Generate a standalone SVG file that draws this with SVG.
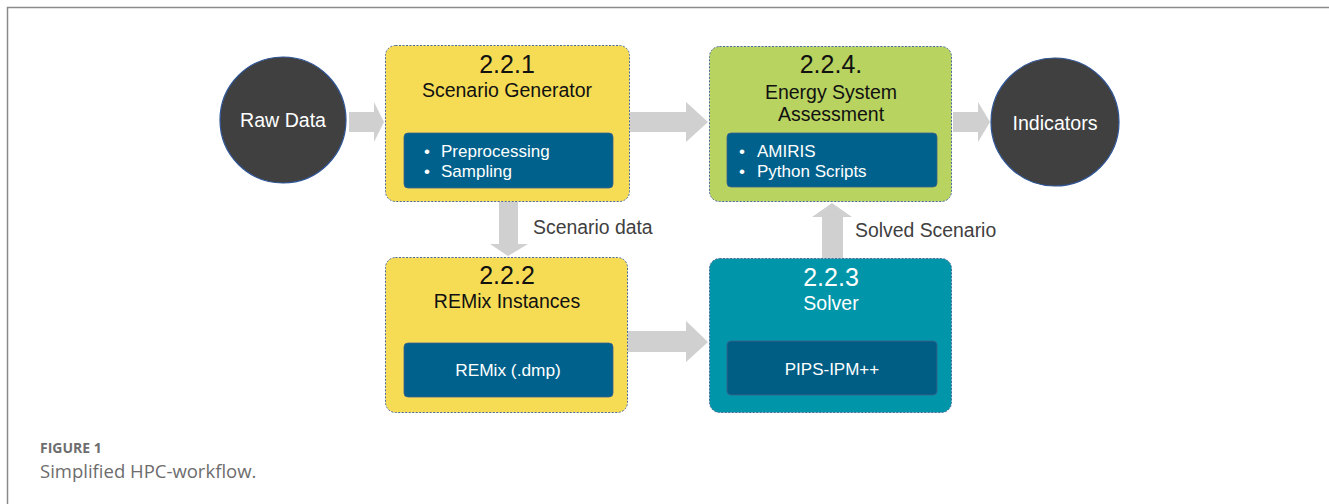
<svg xmlns="http://www.w3.org/2000/svg" width="1329" height="504" viewBox="0 0 1329 504">
<style>
.box{stroke:#4a6a9a;stroke-width:1;stroke-dasharray:2 1.5}
.inner{fill:#00628c;stroke:#3c5f8c;stroke-width:0.8}
.circ{fill:#404040;stroke:#2f5597;stroke-width:1.2}
.t{font-family:"Liberation Sans",Arial,sans-serif;text-anchor:middle}
.dk{fill:#111}
.wh{fill:#fff}
.lb{font-family:"Liberation Sans",Arial,sans-serif;font-size:19.4px;fill:#404040}
.bl{font-family:"Liberation Sans",Arial,sans-serif;font-size:17px;fill:#fff}
.arr{fill:#d0d0d0}
.cap{font-family:"Open Sans","Liberation Sans",sans-serif;fill:#6d6d6d}
</style>
<rect width="1329" height="504" fill="#fff"/>
<path d="M7.5 504 V7.5 H1329" fill="none" stroke="#8a8a8a" stroke-width="1.5"/>
<g id="connectors">
<polygon class="arr" points="349,112 374,112 374,102 384,122 374,142 374,132 349,132"/>
<polygon class="arr" points="630,112 686,112 686,102 708,122 686,142 686,132 630,132"/>
<polygon class="arr" points="953,112 978,112 978,102 990,122 978,142 978,132 953,132"/>
<polygon class="arr" points="499,202 518,202 518,244 528,244 508,256 490,244 499,244"/>
<polygon class="arr" points="628,331 686,331 686,321 708,342 686,362 686,352 628,352"/>
<polygon class="arr" points="822,258 843,258 843,217 852,217 832,203 812,217 822,217"/>
<text class="lb" x="533" y="234">Scenario data</text>
<text class="lb" x="855" y="237">Solved Scenario</text>
</g>
<g id="raw-data">
<circle class="circ" cx="283" cy="120" r="63"/>
<text class="t wh" x="283" y="127" font-size="19.6">Raw Data</text>
</g>
<g id="scenario-generator">
<rect class="box" x="385.5" y="45.5" width="244" height="156" rx="10" fill="#f6dc55"/>
<text class="t dk" x="507" y="73" font-size="25">2.2.1</text>
<text class="t dk" x="507" y="97" font-size="19.5">Scenario Generator</text>
<rect class="inner" x="404" y="133" width="209" height="55" rx="4"/>
<text class="bl" x="424" y="157">•</text><text class="bl" x="441" y="157">Preprocessing</text>
<text class="bl" x="424" y="177">•</text><text class="bl" x="441" y="177">Sampling</text>
</g>
<g id="energy-system-assessment">
<rect class="box" x="709.5" y="46.5" width="242" height="155" rx="10" fill="#b8d35f"/>
<text class="t dk" x="831" y="73" font-size="25">2.2.4.</text>
<text class="t dk" x="831" y="99" font-size="19.5">Energy System</text>
<text class="t dk" x="831" y="121" font-size="19.5">Assessment</text>
<rect class="inner" x="727" y="133" width="210" height="54" rx="4"/>
<text class="bl" x="739" y="157">•</text><text class="bl" x="757" y="157">AMIRIS</text>
<text class="bl" x="739" y="177">•</text><text class="bl" x="757" y="177">Python Scripts</text>
</g>
<g id="indicators">
<circle class="circ" cx="1055" cy="122" r="64"/>
<text class="t wh" x="1055" y="130" font-size="19.6">Indicators</text>
</g>
<g id="remix-instances">
<rect class="box" x="385.5" y="257.5" width="242" height="155" rx="10" fill="#f6dc55"/>
<text class="t dk" x="507" y="284" font-size="25">2.2.2</text>
<text class="t dk" x="507" y="308" font-size="19.5">REMix Instances</text>
<rect class="inner" x="404" y="343" width="209" height="54" rx="4"/>
<text class="t wh" x="508" y="376" font-size="17.3">REMix (.dmp)</text>
</g>
<g id="solver">
<rect class="box" x="709.5" y="258.5" width="242" height="154" rx="10" fill="#0095a8"/>
<text class="t wh" x="831" y="286" font-size="25">2.2.3</text>
<text class="t wh" x="831" y="310" font-size="19.5">Solver</text>
<rect class="inner" x="727" y="341" width="210" height="54" rx="4" style="fill:#005e85"/>
<text class="t wh" x="832" y="375" font-size="17">PIPS-IPM++</text>
</g>
<g id="caption">
<text class="cap" x="40" y="453" font-size="14" font-weight="bold">FIGURE 1</text>
<text class="cap" x="40" y="478" font-size="18.5">Simplified HPC-workflow.</text>
</g>
</svg>
